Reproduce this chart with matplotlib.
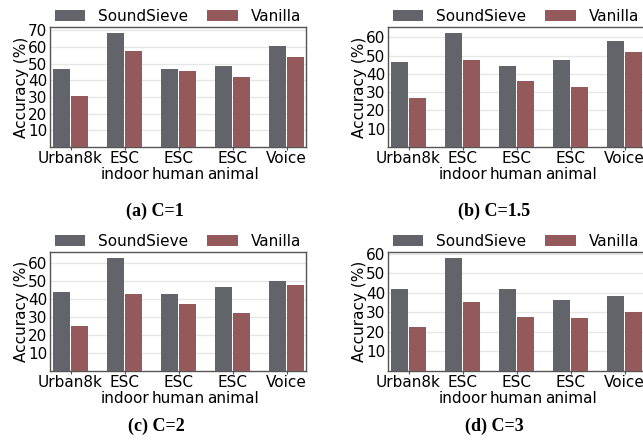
import numpy as np
import matplotlib
matplotlib.use("Agg")
import matplotlib.pyplot as plt

# data
categories = ["Urban8k", "ESC\nindoor", "ESC\nhuman", "ESC\nanimal", "Voice"]
series_names = ["SoundSieve", "Vanilla"]
captions = ["(a) C=1", "(b) C=1.5", "(c) C=2", "(d) C=3"]

soundsieve_c1 = [47.0, 68.6, 47.0, 48.8, 60.8]
vanilla_c1 = [30.8, 57.8, 45.4, 42.2, 54.2]
soundsieve_c15 = [46.6, 62.6, 44.4, 47.7, 58.2]
vanilla_c15 = [26.6, 47.5, 36.1, 32.8, 52.1]
soundsieve_c2 = [43.5, 62.8, 42.4, 46.8, 50.1]
vanilla_c2 = [24.7, 42.9, 37.4, 31.9, 47.9]
soundsieve_c3 = [41.9, 58.1, 41.9, 36.3, 38.4]
vanilla_c3 = [22.7, 35.3, 27.7, 27.2, 30.3]

COLORS = ["#636469", "#93595b"]
W, H = 643, 447

fig = plt.figure(figsize=(W / 100, H / 100), dpi=100)

# axes boxes in pixels: left, top, right, bottom
boxes = [(50, 27, 306, 147), (388, 27, 644, 147),
         (50, 252, 306, 371), (388, 252, 644, 371)]
caption_pos = [(155, 211), (494, 211), (156, 426), (494, 426)]
data = [(soundsieve_c1, vanilla_c1), (soundsieve_c15, vanilla_c15),
        (soundsieve_c2, vanilla_c2), (soundsieve_c3, vanilla_c3)]

x = np.arange(len(categories))
bw = 0.31
for (l, t, r, b), (ss, va), cap, (cx, cy) in zip(boxes, data, captions, caption_pos):
    ax = fig.add_axes([l / W, 1 - b / H, (r - l) / W, (b - t) / H])
    ax.bar(x - 0.163, ss, bw, color=COLORS[0], label=series_names[0], zorder=3)
    ax.bar(x + 0.163, va, bw, color=COLORS[1], label=series_names[1], zorder=3)
    top = max(ss) * 1.05
    ax.set_ylim(0, top)
    ax.set_xlim(-0.38, 4.36)
    ax.set_yticks(np.arange(10, top, 10))
    ax.set_xticks(x)
    ax.set_xticklabels(categories, fontsize=11, linespacing=1.1)
    ax.tick_params(axis="y", labelsize=11, length=0, pad=2)
    ax.tick_params(axis="x", length=2, pad=1, color="#555555")
    ax.grid(axis="y", color="#e6e6e6", linewidth=1, zorder=0)
    for s in ax.spines.values():
        s.set_color("#555555")
        s.set_linewidth(1)
    ax.set_ylabel("Accuracy (%)", fontsize=11, labelpad=-1)
    ax.legend(loc="lower center", bbox_to_anchor=(0.5, 1.0), ncol=2, frameon=False,
              fontsize=11, borderaxespad=0, handlelength=2.0, handletextpad=0.85,
              columnspacing=1.25, borderpad=0.2)
    fig.text(cx / W, 1 - cy / H, cap, ha="center", va="center", fontsize=13,
             fontweight="bold", family="Liberation Serif")

fig.savefig("out.png", dpi=100)
